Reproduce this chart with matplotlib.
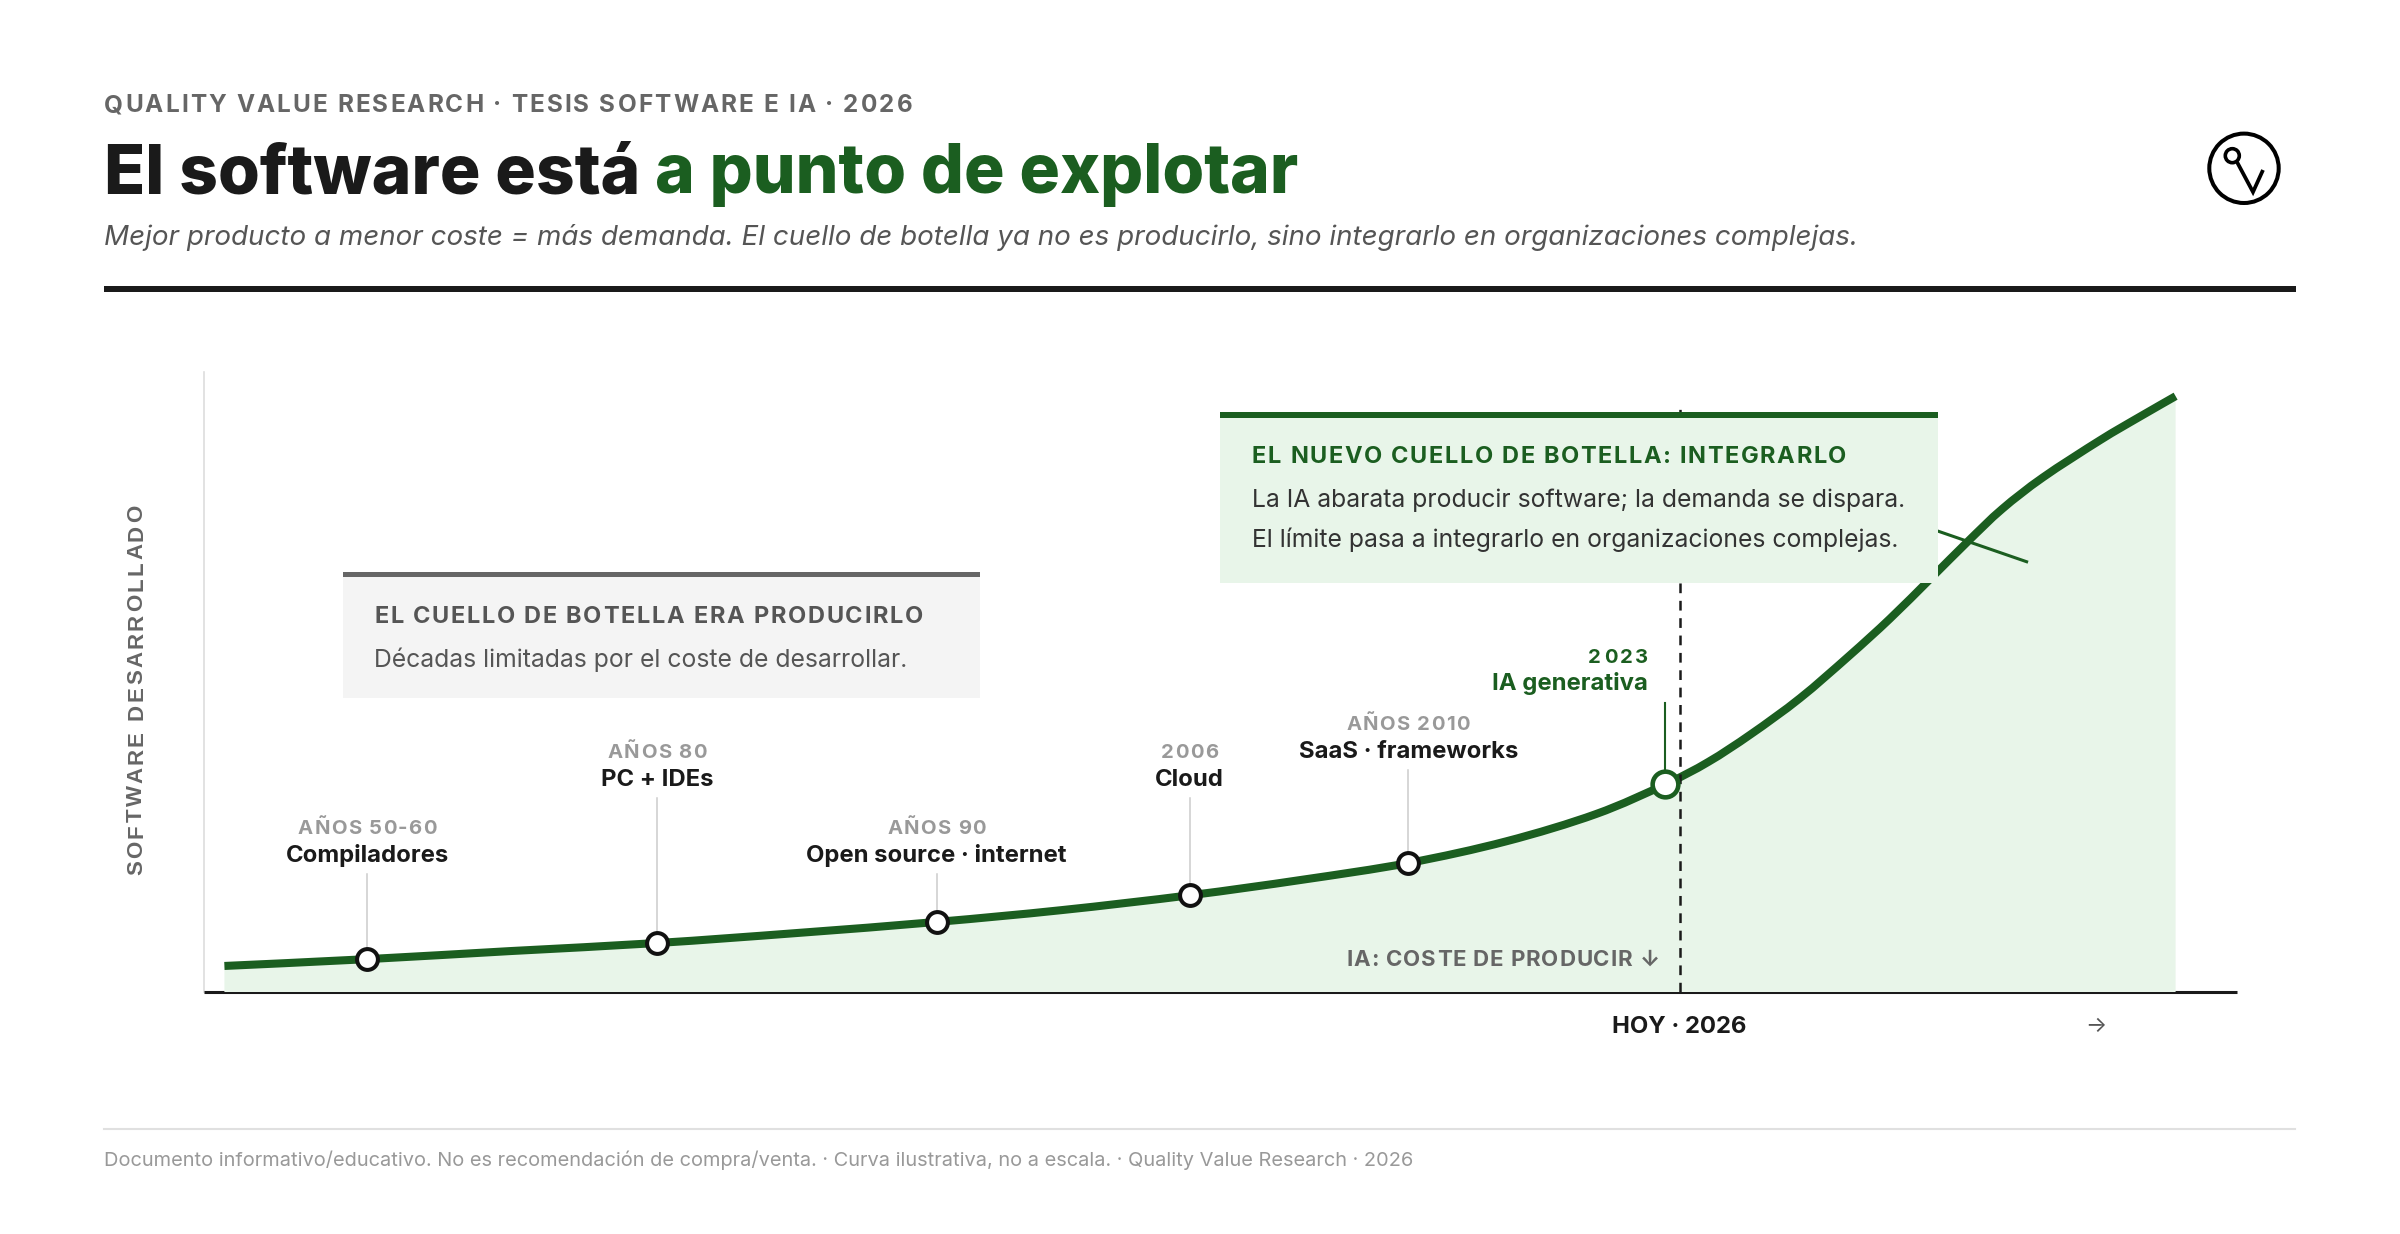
import matplotlib
matplotlib.use('Agg')
import matplotlib.pyplot as plt
from matplotlib.font_manager import FontProperties, findfont
from matplotlib.ft2font import FT2Font
from matplotlib.patches import Rectangle, Circle, PathPatch
from matplotlib.path import Path
from matplotlib.lines import Line2D

W, H, DPI = 2400, 1234, 100
GREEN = '#1b5e20'
FILL = '#e8f5e9'
INK = '#1a1a1a'

plt.rcParams['font.family'] = ['Inter', 'DejaVu Sans']
plt.rcParams['lines.scale_dashes'] = False

# illustrative curve (chart units 0-100)
curve_x = [1.0, 8.0, 15.0, 22.2, 29.0, 35.9, 42.0, 48.3, 53.8, 59.0, 63.8, 68.2,
           71.6, 73.7, 75.8, 78.2, 80.6, 82.6, 84.6, 86.4, 88.1, 90.1, 92.9, 94.8, 96.6]
curve_y = [4.2, 5.3, 6.6, 7.9, 9.5, 11.3, 13.2, 15.6, 18.1, 20.8, 24.3, 28.7,
           33.5, 37.1, 41.6, 47.4, 54.2, 60.2, 66.7, 72.6, 77.9, 83.0, 89.0, 92.7, 96.1]

milestone_x = [8.0, 22.2, 35.9, 48.3, 59.0, 71.6]
milestone_y = [5.3, 7.9, 11.3, 15.6, 20.8, 33.5]
milestone_era = ['AÑOS 50-60', 'AÑOS 80', 'AÑOS 90', '2006', 'AÑOS 2010', '2023']
milestone_name = ['Compiladores', 'PC + IDEs', 'Open source · internet', 'Cloud',
                  'SaaS · frameworks', 'IA generativa']
label_top = [19.0, 31.3, 19.0, 31.3, 35.8, 46.6]   # where each stem ends
hoy_x = 72.3

fig = plt.figure(figsize=(W / DPI, H / DPI), dpi=DPI)
fig.patch.set_facecolor('white')


def px(x, y):
    # pixels from top-left -> figure fraction
    return x / W, 1 - y / H


def font(size, weight='normal', style='normal', family='Inter'):
    return FontProperties(family=[family, 'DejaVu Sans'], size=size, weight=weight, style=style)


def advances(s, prop):
    f = FT2Font(findfont(prop), hinting_factor=1)
    f.set_size(prop.get_size_in_points(), DPI)
    return [f.load_char(ord(c)).linearHoriAdvance / 65536 for c in s]


def tracked(x, y, s, prop, track=0.0, ha='left', rotation=0, color=INK, zorder=3):
    adv = advances(s, prop)
    total = sum(adv) + track * (len(s) - 1)
    pen = {'left': 0.0, 'center': -total / 2, 'right': -total}[ha]
    for c, a in zip(s, adv):
        if c != ' ':
            if rotation == 90:
                fig.text(*px(x, y - pen), c, fontproperties=prop, color=color, rotation=90,
                         rotation_mode='anchor', ha='left', va='baseline', zorder=zorder)
            else:
                fig.text(*px(x + pen, y), c, fontproperties=prop, color=color,
                         ha='left', va='baseline', zorder=zorder)
        pen += a + track


def smooth_path(xs, ys):
    # catmull-rom through the points, drawn as cubic bezier pieces
    pts = list(zip(xs, ys))
    verts, codes = [pts[0]], [Path.MOVETO]
    for i in range(len(pts) - 1):
        p0 = pts[max(i - 1, 0)]
        p1, p2 = pts[i], pts[i + 1]
        p3 = pts[min(i + 2, len(pts) - 1)]
        c1 = (p1[0] + (p2[0] - p0[0]) / 6, p1[1] + (p2[1] - p0[1]) / 6)
        c2 = (p2[0] - (p3[0] - p1[0]) / 6, p2[1] - (p3[1] - p1[1]) / 6)
        verts += [c1, c2, p2]
        codes += [Path.CURVE4] * 3
    return verts, codes


# header
tracked(104, 112, 'QUALITY VALUE RESEARCH · TESIS SOFTWARE E IA · 2026', font(17.5, 'bold'),
        track=2.1, color='#666666')
title_prop = font(48.7, 'heavy')
part1 = 'El software está '
fig.text(*px(104, 193), part1, fontproperties=title_prop, color=INK, ha='left', va='baseline')
fig.text(*px(104 + sum(advances(part1, title_prop)), 193), 'a punto de explotar',
         fontproperties=title_prop, color=GREEN, ha='left', va='baseline')
fig.text(*px(104, 245), 'Mejor producto a menor coste = más demanda. El cuello de botella ya no es '
         'producirlo, sino integrarlo en organizaciones complejas.',
         fontproperties=font(20, style='italic'), color='#555555', ha='left', va='baseline')
fig.add_artist(Rectangle(px(104, 292), 2192 / W, 6 / H, transform=fig.transFigure,
                         color=INK, lw=0))

# logo
lg = fig.add_axes([2194 / W, 1 - 218 / H, 100 / W, 100 / H])
lg.set_xlim(2194, 2294)
lg.set_ylim(218, 118)
lg.set_aspect('equal')
lg.axis('off')
lg.add_patch(Circle((2244, 168.3), 34.7, fill=False, ec='black', lw=2.9))
lg.add_patch(Circle((2232.3, 155.7), 7.0, fill=False, ec='black', lw=2.6))
lg.plot([2237, 2253, 2263], [162, 192, 170], color='black', lw=2.7,
        solid_joinstyle='miter', solid_capstyle='butt')

# chart
ax = fig.add_axes([204 / W, 1 - 992 / H, (2237 - 204) / W, (992 - 372) / H])
ax.set_xlim(0, (2237 - 204) / 20.41)
ax.set_ylim(0, 100)
ax.set_facecolor('none')
ax.set_xticks([])
ax.set_yticks([])
ax.spines['top'].set_visible(False)
ax.spines['right'].set_visible(False)
ax.spines['left'].set_color('#dddddd')
ax.spines['left'].set_linewidth(1.2)
ax.spines['bottom'].set_color(INK)
ax.spines['bottom'].set_linewidth(2.2)
ax.spines['bottom'].set_capstyle('butt')

verts, codes = smooth_path(curve_x, curve_y)
area = Path(verts + [(curve_x[-1], 0), (curve_x[0], 0), (curve_x[0], 0)],
            codes + [Path.LINETO, Path.LINETO, Path.CLOSEPOLY])
ax.add_patch(PathPatch(area, fc=FILL, lw=0, zorder=3))
ax.add_patch(PathPatch(Path(verts, codes), fill=False, ec=GREEN, lw=5.8,
                       capstyle='butt', joinstyle='round', zorder=4))
ax.plot([84.9, 89.3], [74.4, 69.4], color=GREEN, lw=2.2, zorder=4)
ax.plot([hoy_x, hoy_x], [0, 95.2], color=INK, lw=1.8, dashes=(7, 5.5), zorder=5)

for i in range(len(milestone_x)):
    last = i == len(milestone_x) - 1
    ax.plot([milestone_x[i]] * 2, [milestone_y[i], label_top[i]],
            color=GREEN if last else '#cccccc', lw=1.5 if last else 1.1, zorder=4.5)
    ax.plot(milestone_x[i], milestone_y[i], 'o', ms=18.5 if last else 15, mfc='white',
            mec=GREEN if last else '#111111', mew=3.3 if last else 2.9, zorder=6)
    sx, sy = ax.transData.transform((milestone_x[i], label_top[i]))
    sy = H - sy
    if last:
        tracked(sx - 17, sy - 40, milestone_era[i], font(14.6, 'bold'), track=2.6,
                ha='right', color=GREEN)
        fig.text(*px(sx - 17, sy - 13), milestone_name[i], fontproperties=font(17.2, 'bold'),
                 color=GREEN, ha='right', va='baseline')
    else:
        tracked(sx, sy - 40, milestone_era[i], font(14.6, 'bold'), track=1.3,
                ha='center', color='#999999')
        fig.text(*px(sx, sy - 12), milestone_name[i], fontproperties=font(17.2, 'bold'),
                 color=INK, ha='center', va='baseline')

hx = ax.transData.transform((hoy_x, 0))[0]
fig.text(*px(hx, 1033), 'HOY · 2026', fontproperties=font(17.2, 'bold'), color=INK,
         ha='center', va='baseline')
fig.text(*px(2096, 1024), '→', fontproperties=font(16), color='#555555',
         ha='center', va='center_baseline')
tracked(hx - 20, 966, 'IA: COSTE DE PRODUCIR ↓', font(16, 'bold'), track=0.9,
        ha='right', color='#666666', zorder=3)

tracked(142, 875, 'SOFTWARE DESARROLLADO', font(16, 'bold', family='Liberation Sans'),
        track=2.6, rotation=90, color='#666666')

# annotation boxes
fig.add_artist(Rectangle(px(343, 698), 637 / W, 121 / H, transform=fig.transFigure,
                         color='#f4f4f4', lw=0, zorder=1))
fig.add_artist(Rectangle(px(343, 577), 637 / W, 5 / H, transform=fig.transFigure,
                         color='#666666', lw=0, zorder=1))
tracked(374, 623, 'EL CUELLO DE BOTELLA ERA PRODUCIRLO', font(17, 'bold'), track=1.7,
        color='#555555')
fig.text(*px(374, 667), 'Décadas limitadas por el coste de desarrollar.',
         fontproperties=font(17.8), color='#555555', ha='left', va='baseline')

fig.add_artist(Rectangle(px(1220, 583), 718 / W, 165 / H, transform=fig.transFigure,
                         color=FILL, lw=0, zorder=1))
fig.add_artist(Rectangle(px(1220, 418), 718 / W, 6 / H, transform=fig.transFigure,
                         color=GREEN, lw=0, zorder=1))
tracked(1252, 463, 'EL NUEVO CUELLO DE BOTELLA: INTEGRARLO', font(17, 'bold'), track=1.6,
        color=GREEN)
fig.text(*px(1252, 507), 'La IA abarata producir software; la demanda se dispara.',
         fontproperties=font(17.8), color='#333333', ha='left', va='baseline')
fig.text(*px(1252, 547), 'El límite pasa a integrarlo en organizaciones complejas.',
         fontproperties=font(17.8), color='#333333', ha='left', va='baseline')

# footer
fig.add_artist(Line2D([104 / W, 2295 / W], [1 - 1129 / H] * 2, transform=fig.transFigure,
                      color='#e0e0e0', lw=1.5))
fig.text(*px(104, 1166), 'Documento informativo/educativo. No es recomendación de compra/venta. · '
         'Curva ilustrativa, no a escala. · Quality Value Research · 2026',
         fontproperties=font(14.4), color='#999999', ha='left', va='baseline')

fig.savefig('out.png', dpi=DPI, facecolor='white')
